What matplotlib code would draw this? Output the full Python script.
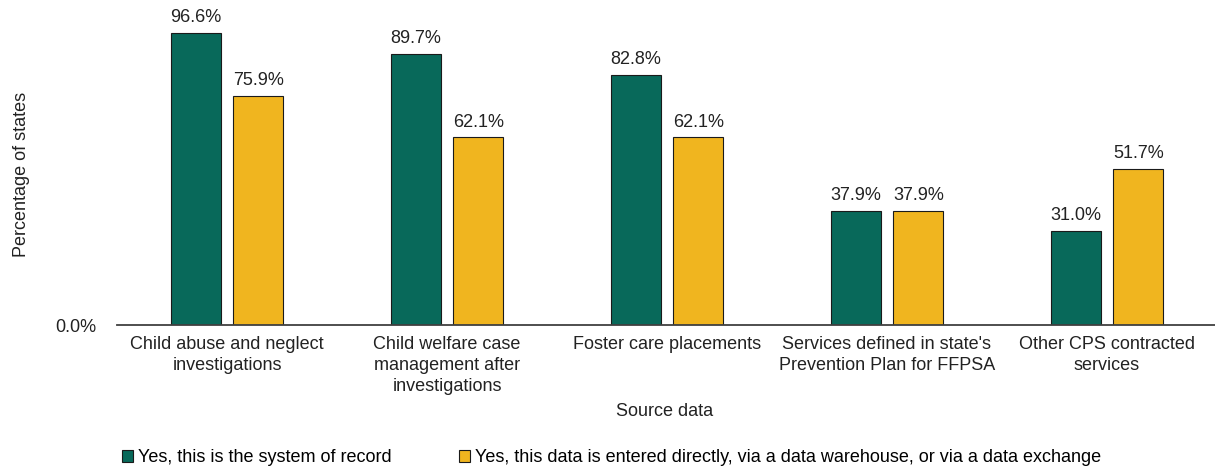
import numpy as np
import matplotlib.pyplot as plt

plt.rcParams['font.family'] = ['Liberation Sans', 'DejaVu Sans']

# Share of states by data source type
categories = [
    "Child abuse and neglect\ninvestigations",
    "Child welfare case\nmanagement after\ninvestigations",
    "Foster care placements",
    "Services defined in state's\nPrevention Plan for FFPSA",
    "Other CPS contracted\nservices",
]
system_of_record = [96.6, 89.7, 82.8, 37.9, 31.0]
entered_or_exchanged = [75.9, 62.1, 62.1, 37.9, 51.7]
series_names = [
    "Yes, this is the system of record",
    "Yes, this data is entered directly, via a data warehouse, or via a data exchange",
]

GREEN = "#08695A"
YELLOW = "#F0B51F"
FS = 13

fig = plt.figure(figsize=(12.15, 4.71), dpi=100)
ax = fig.add_axes([117 / 1215, 1 - 325 / 471, 1100 / 1215, 302 / 471])

x = np.arange(len(categories))
w = 0.227
off = 0.143
b1 = ax.bar(x - off, system_of_record, w, color=GREEN, edgecolor="#1a1a1a", linewidth=0.8,
            label=series_names[0])
b2 = ax.bar(x + off, entered_or_exchanged, w, color=YELLOW, edgecolor="#1a1a1a", linewidth=0.8,
            label=series_names[1])

for bars, vals in ((b1, system_of_record), (b2, entered_or_exchanged)):
    for bar, v in zip(bars, vals):
        ax.text(bar.get_x() + bar.get_width() / 2, v + 2.3, f"{v:.1f}%",
                ha="center", va="bottom", fontsize=FS, color="#222222")

ax.set_xlim(-0.5, len(categories) - 0.5)
ax.set_ylim(0, 100)
ax.set_yticks([0])
ax.set_yticklabels(["0.0%"])
ax.set_xticks(x)
ax.set_xticklabels(categories, fontsize=FS, color="#222222", linespacing=1.3)
ax.tick_params(axis="both", length=0, labelsize=FS, colors="#222222")
ax.tick_params(axis="x", pad=8)
ax.tick_params(axis="y", pad=15)

for s in ("top", "right", "left"):
    ax.spines[s].set_visible(False)
ax.spines["bottom"].set_color("#404040")
ax.spines["bottom"].set_linewidth(1.3)

ax.set_ylabel("Percentage of states", fontsize=FS, color="#222222")
ax.yaxis.set_label_coords(-0.079, 0.5)
fig.text(665 / 1215, 1 - 412 / 471, "Source data", ha="center", va="center",
         fontsize=FS, color="#222222")

fig.legend(handles=[b1, b2], labels=series_names, loc="center left",
           bbox_to_anchor=(122 / 1215, 1 - 458 / 471), ncol=2, frameon=False,
           fontsize=FS, handlelength=0.6, handleheight=0.6, handletextpad=0.3,
           columnspacing=3.7, borderaxespad=0, borderpad=0)

fig.savefig("out.png", dpi=100)
